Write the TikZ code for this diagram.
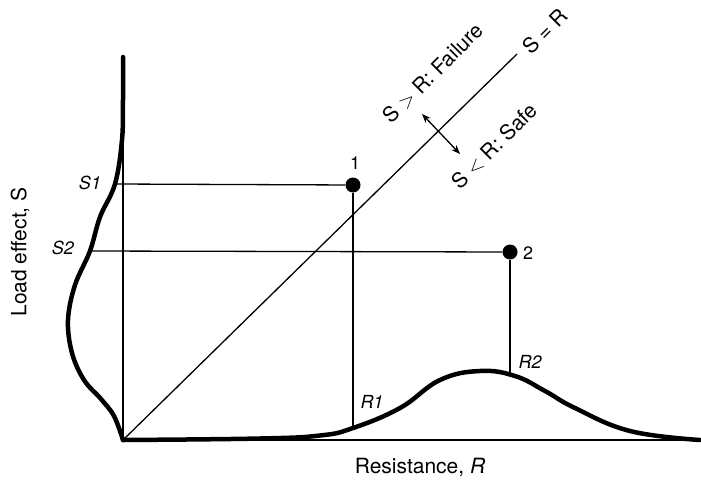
\documentclass[tikz,border=0pt]{standalone}
\usepackage{fontspec}
\setmainfont{TeX Gyre Heros}
\usetikzlibrary{arrows.meta}
\begin{document}
\begin{tikzpicture}[x=1pt,y=-1pt,
  thinline/.style={line width=1.3pt},
  thickcurve/.style={line width=4.5pt, line cap=round, line join=round},
  dot/.style={circle, fill=black, minimum size=15pt, inner sep=0pt},
  lbl/.style={font=\fontsize{18}{22}\selectfont, inner sep=0pt},
  axlbl/.style={font=\fontsize{21}{25}\selectfont, inner sep=0pt},
  dbl/.style={thinline, {Stealth[length=9pt,width=7pt]}-{Stealth[length=9pt,width=7pt]}},
]
\useasboundingbox (0,0) rectangle (701,482);
% anchor points
\coordinate (O) at (123,440);
\coordinate (Stop) at (123,57);
\coordinate (Rend) at (700,440);
\coordinate (Dend) at (517,54);
\coordinate (S1c) at (115,184);
\coordinate (S2c) at (90,251);
\coordinate (R1c) at (353,428);
\coordinate (R2c) at (510,374);
\coordinate (A1) at (422,114);
\coordinate (A2) at (460,154);
\node[dot] (p1) at (353,185) {};
\node[dot] (p2) at (510,252) {};
% axes
\draw[line width=1.5pt] (O) -- (Stop);
\draw[line width=2.5pt] (O) -- (Rend);
% S = R line
\draw[thinline] (O) -- (Dend);
% projections
\draw[thinline] (S1c) -- (p1);
\draw[thinline] (S2c) -- (p2);
\draw[thinline] (p1) -- (R1c);
\draw[thinline] (p2) -- (R2c);
% load-effect density
\draw[thickcurve] plot[smooth, tension=0.6] coordinates {(123,57) (123,100) (122,140) (115,184) (100,217) (90,251) (75,285) (68,320) (72,353) (84,380) (101,399) (114,416) (123,440)};
% resistance density
\draw[thickcurve] plot[smooth, tension=0.7] coordinates {(123,440) (260,438.5) (320,435.5) (353,428) (400,408) (440,380) (480,371) (515,376) (545,391) (575,408) (630,431) (700,440)};
% double arrow
\draw[dbl] (A1) -- (A2);
% labels
\node[axlbl, rotate=45] (eq) at (545,31) {S = R};
\node[axlbl, rotate=45] (fail) at (433,73) {S $>$ R: Failure};
\node[axlbl, rotate=45] (safe) at (494,146) {S $<$ R: Safe};
\node[lbl] (l1) at (355,163) {1};
\node[lbl] (l2) at (528,253) {2};
\node[lbl] (s1) at (90,183) {\itshape S1};
\node[lbl] (s2) at (63,248) {\itshape S2};
\node[lbl] (r1) at (372,402) {\itshape R1};
\node[lbl] (r2) at (530,362) {\itshape R2};
\node[axlbl] (xl) at (420,467) {Resistance, \itshape R};
\node[axlbl, rotate=90] (yl) at (20,252) {Load effect, S};
\end{tikzpicture}
\end{document}
